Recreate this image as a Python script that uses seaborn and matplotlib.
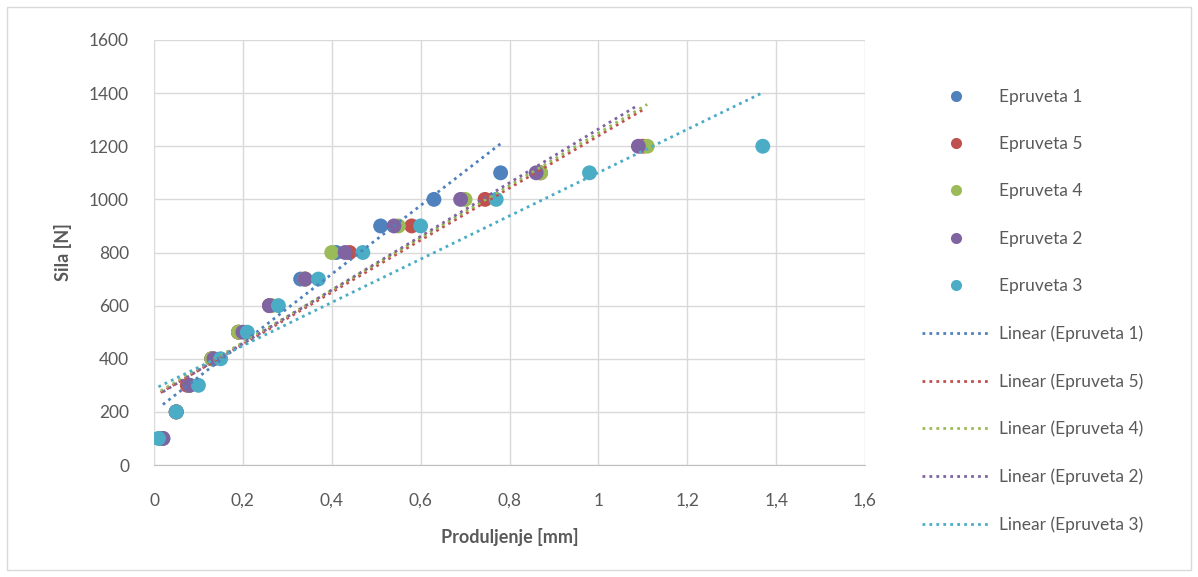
import numpy as np
import pandas as pd
import matplotlib
matplotlib.use("Agg")
import matplotlib.pyplot as plt
import seaborn as sns
from matplotlib.lines import Line2D
from matplotlib.patches import Rectangle

series_names = ["Epruveta 1", "Epruveta 5", "Epruveta 4", "Epruveta 2", "Epruveta 3"]
colors = ["#4F81BD", "#C0504D", "#9BBB59", "#8064A2", "#4BACC6"]

force_1 = [100, 200, 300, 400, 500, 600, 700, 800, 900, 1000, 1100]
elong_1 = [0.02, 0.05, 0.08, 0.13, 0.19, 0.26, 0.33, 0.41, 0.51, 0.63, 0.78]
force_5 = [100, 200, 300, 400, 500, 600, 700, 800, 900, 1000, 1100, 1200]
elong_5 = [0.015, 0.05, 0.075, 0.13, 0.19, 0.26, 0.34, 0.44, 0.58, 0.745, 0.87, 1.10]
force_4 = [100, 200, 300, 400, 500, 600, 700, 800, 900, 1000, 1100, 1200]
elong_4 = [0.015, 0.05, 0.08, 0.13, 0.19, 0.265, 0.34, 0.40, 0.55, 0.70, 0.87, 1.11]
force_2 = [100, 200, 300, 400, 500, 600, 700, 800, 900, 1000, 1100, 1200]
elong_2 = [0.02, 0.05, 0.08, 0.135, 0.20, 0.26, 0.34, 0.43, 0.54, 0.69, 0.86, 1.09]
force_3 = [100, 200, 300, 400, 500, 600, 700, 800, 900, 1000, 1100, 1200]
elong_3 = [0.01, 0.05, 0.10, 0.15, 0.21, 0.28, 0.37, 0.47, 0.60, 0.77, 0.98, 1.37]

x_ticks = [0, 0.2, 0.4, 0.6, 0.8, 1, 1.2, 1.4, 1.6]
x_tick_labels = ["0", "0,2", "0,4", "0,6", "0,8", "1", "1,2", "1,4", "1,6"]
y_ticks = [0, 200, 400, 600, 800, 1000, 1200, 1400, 1600]

data_x = [elong_1, elong_5, elong_4, elong_2, elong_3]
data_y = [force_1, force_5, force_4, force_2, force_3]

frames = []
for name, xs, ys in zip(series_names, data_x, data_y):
    frames.append(pd.DataFrame({"x": xs, "y": ys, "series": name}))
df = pd.concat(frames, ignore_index=True)

sns.set_style("white")
plt.rcParams["font.family"] = ["Lato", "DejaVu Sans"]

fig = plt.figure(figsize=(11.98, 5.77), dpi=100)
ax = fig.add_axes([154 / 1198, 112 / 577, (865 - 154) / 1198, (465 - 40) / 577])

fig.patches.append(Rectangle((7 / 1198, 7 / 577), 1184 / 1198, 563 / 577,
                             transform=fig.transFigure, fill=False,
                             edgecolor="#d9d9d9", linewidth=1))

sns.scatterplot(data=df, x="x", y="y", hue="series", hue_order=series_names,
                palette=colors, s=115, edgecolor="none", legend=False, ax=ax,
                zorder=3)

for name, xs, ys, c in zip(series_names, data_x, data_y, colors):
    sns.regplot(x=np.array(xs), y=np.array(ys), scatter=False, ci=None,
                truncate=True, ax=ax, color=c,
                line_kws=dict(linestyle=(0, (1, 1.5)), linewidth=2.0, zorder=4))

ax.set_xlim(0, 1.6)
ax.set_ylim(0, 1600)
ax.set_xticks(x_ticks)
ax.set_xticklabels(x_tick_labels)
ax.set_yticks(y_ticks)
ax.grid(True, color="#d9d9d9", linewidth=1)
ax.set_axisbelow(True)
for sp in ["left", "right", "top"]:
    ax.spines[sp].set_visible(False)
ax.spines["bottom"].set_color("#bfbfbf")
ax.tick_params(axis="y", colors="#595959", labelsize=12.5, length=0, pad=18)
ax.tick_params(axis="x", colors="#595959", labelsize=12.5, length=0, pad=20)
ax.set_xlabel("Produljenje [mm]", fontsize=13, fontweight="bold", color="#595959", labelpad=14)
ax.set_ylabel("Sila [N]", fontsize=13, fontweight="bold", color="#595959", labelpad=12)

handles = []
labels = []
for name, c in zip(series_names, colors):
    handles.append(Line2D([], [], linestyle="none", marker="o", markersize=8,
                          markerfacecolor=c, markeredgecolor="none"))
    labels.append(name)
for name, c in zip(series_names, colors):
    handles.append(Line2D([], [], linestyle=(0, (1, 1.5)), linewidth=2.0, color=c))
    labels.append("Linear (" + name + ")")

leg = fig.legend(handles, labels, loc="center left",
                 bbox_to_anchor=(906 / 1198, (577 - 311) / 577),
                 frameon=False, fontsize=12.5, labelspacing=1.8,
                 handlelength=4.0, handletextpad=0.45, labelcolor="#595959")

fig.savefig("out.png", dpi=100, facecolor="white")
